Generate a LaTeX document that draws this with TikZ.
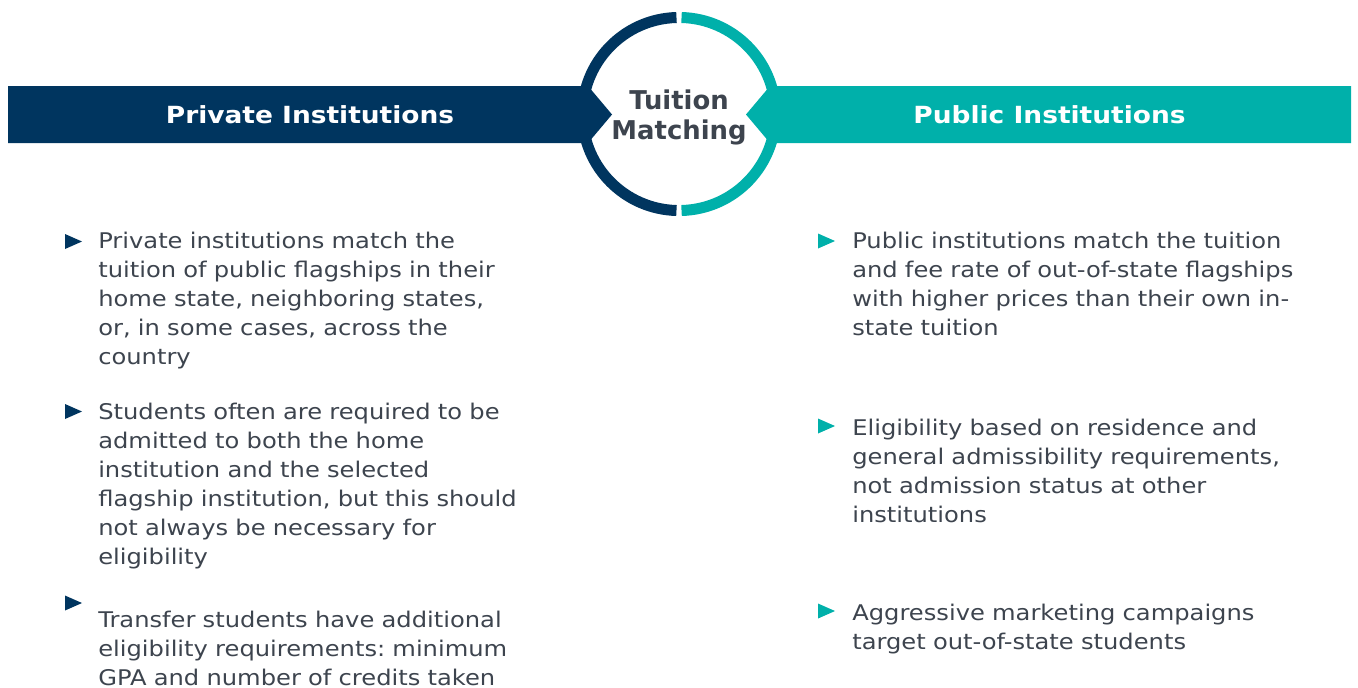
\documentclass[tikz,border=0pt]{standalone}
\usepackage{fontspec}
\setmainfont{DejaVu Sans}
\newfontfamily\widefont{DejaVu Sans}[FakeStretch=1.12]
\frenchspacing

\definecolor{navyband}{RGB}{0,53,95}
\definecolor{tealband}{RGB}{0,176,170}
\definecolor{slate}{RGB}{61,68,78}

\tikzset{
  head/.style={anchor=base, inner sep=0, text=white,
    font=\widefont\fontsize{17.7}{21}\selectfont\bfseries},
  point/.style={anchor=base west, inner sep=0, align=left, text=slate,
    font=\widefont\fontsize{16.2}{21.75}\selectfont}
}

\begin{document}
\begin{tikzpicture}[x=0.75pt, y=-0.75pt]
\useasboundingbox (0,0) rectangle (1358,687);

% the two bands meeting in the ring
\fill[navyband] (8,86) -- (588,86) -- (612,114.5) -- (588,143) -- (8,143) -- cycle;
\fill[tealband] (1351,86) -- (770,86) -- (746,114.5) -- (770,143) -- (1351,143) -- cycle;

\coordinate (ring) at (679,114);
\draw[navyband, line width=8.25pt] ([shift={(91.5:72.4pt)}]ring)
  arc[start angle=91.5, end angle=268.5, radius=72.4pt];
\draw[tealband, line width=8.25pt] ([shift={(-88.5:72.4pt)}]ring)
  arc[start angle=-88.5, end angle=88.5, radius=72.4pt];

\node[anchor=base, inner sep=0, text width=150pt, align=center, text=slate,
  font=\fontsize{19.4}{22.5}\selectfont\bfseries] (hub) at (679,109)
  {Tuition\\Matching};

\node[head] (private) at (310,123) {Private Institutions};
\node[head] (public) at (1049.5,123) {Public Institutions};

% bullet markers
\foreach \y in {241.5,411.5,603}
  \fill[navyband] (65,\y-7.5) -- (82,\y) -- (65,\y+7.5) -- cycle;
\foreach \y in {241,426,611}
  \fill[tealband] (818,\y-7.5) -- (835,\y) -- (818,\y+7.5) -- cycle;

\node[point, text width=360pt] (priv1) at (98,248)
  {Private institutions match the\\tuition of public flagships in their\\home state, neighboring states,\\or, in some cases, across the\\country};
\node[point, text width=360pt] (priv2) at (98,419)
  {Students often are required to be\\admitted to both the home\\institution and the selected\\flagship institution, but this should\\not always be necessary for\\eligibility};
\node[point, text width=360pt] (priv3) at (98,627)
  {Transfer students have additional\\eligibility requirements: minimum\\GPA and number of credits taken};

\node[point, text width=370pt] (pub1) at (852,248)
  {Public institutions match the tuition\\and fee rate of out-of-state flagships\\with higher prices than their own in-\\state tuition};
\node[point, text width=370pt] (pub2) at (852,435)
  {Eligibility based on residence and\\general admissibility requirements,\\not admission status at other\\institutions};
\node[point, text width=370pt] (pub3) at (852,620)
  {Aggressive marketing campaigns\\target out-of-state students};

\end{tikzpicture}
\end{document}
